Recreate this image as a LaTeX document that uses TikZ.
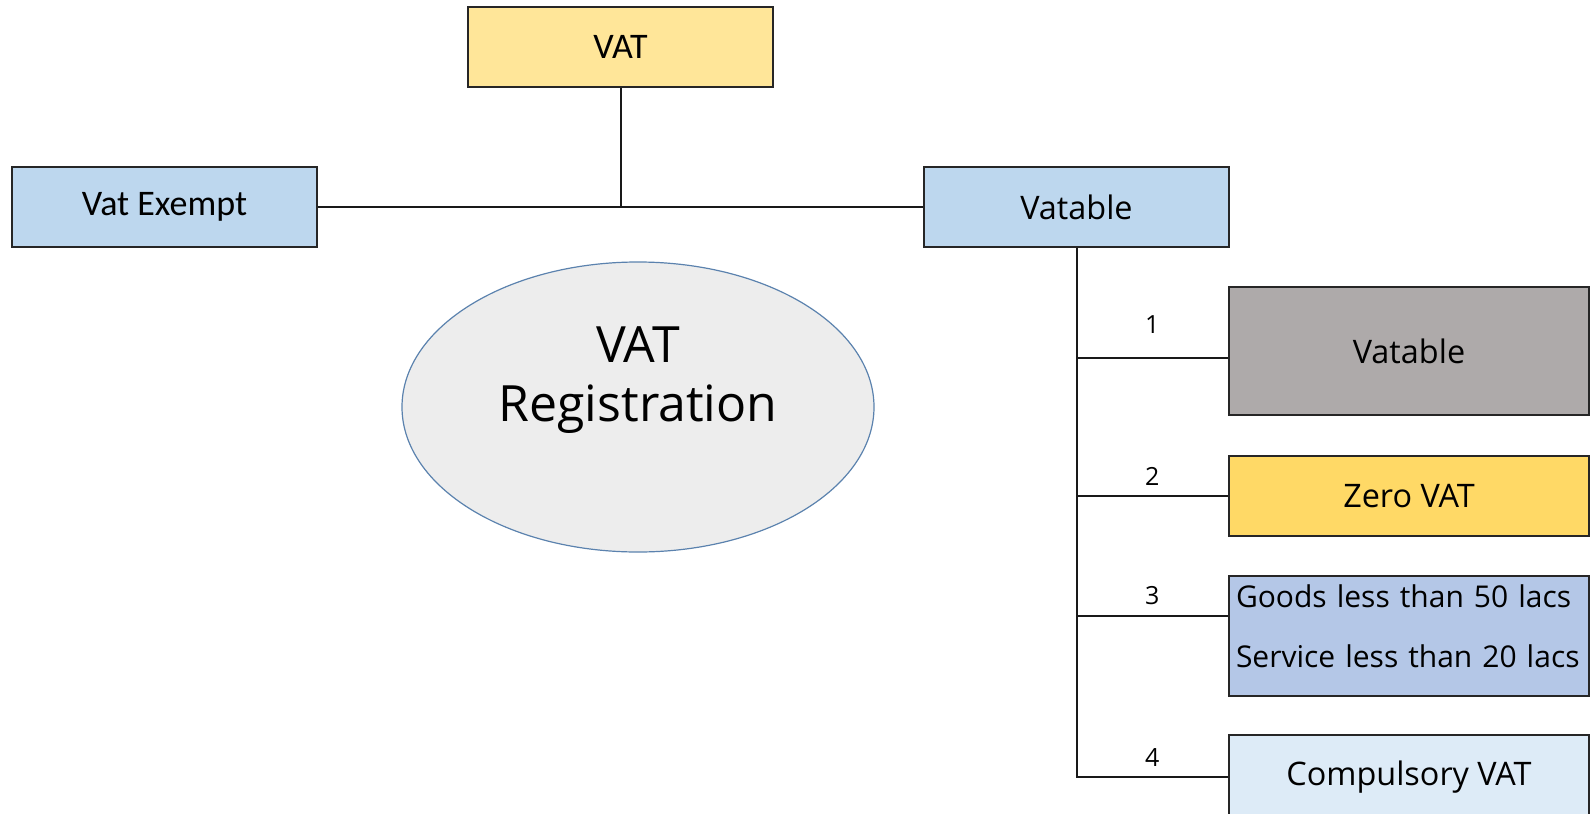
\documentclass[tikz,border=0pt]{standalone}
\usepackage{xcolor}
\usepackage{fontspec}
\setmainfont{Open Sans}
\newfontfamily\calfont{Carlito}
\usetikzlibrary{shapes.geometric}
\usetikzlibrary{positioning, calc}

\definecolor{vatyellow}{HTML}{FFE699}
\definecolor{zeroyellow}{HTML}{FFD966}
\definecolor{paleblue}{HTML}{BDD7EE}
\definecolor{midblue}{HTML}{B4C7E7}
\definecolor{lightblue}{HTML}{DDEBF7}
\definecolor{boxgray}{HTML}{AEAAAA}
\definecolor{ellgray}{HTML}{EDEDED}
\definecolor{ellline}{HTML}{5B82AE}
\definecolor{edge}{HTML}{262626}

\tikzset{
  box/.style={draw=edge, line width=0.9pt, rectangle, inner sep=0pt,
    minimum width=\Wbox, font=\fontsize{16.2}{19}\selectfont},
  calbox/.style={box, font=\calfont\fontsize{18}{21}\selectfont},
  ell/.style={ellipse, draw=ellline, line width=0.6pt, fill=ellgray, inner sep=0pt,
    align=center, font=\fontsize{25}{29.5}\selectfont},
  num/.style={font=\fontsize{12.5}{14}\selectfont, inner sep=0pt},
  link/.style={draw=black!90, line width=1pt}
}

\begin{document}
\begin{tikzpicture}[x=0.5pt, y=-0.5pt]
      \def\Wbox{152.5pt}
      \def\Wside{180pt}
      \useasboundingbox (0,0) rectangle (1596,814);

      % TOP ROW
      \node[calbox, fill=vatyellow, minimum height=40pt] (vat) at (620.5,47) {VAT};
      \node[calbox, fill=paleblue, minimum height=40pt] (exempt) at (164.5,207) {Vat Exempt};
      \node[box, fill=paleblue, minimum height=40pt] (vatable) at (1076.5,207) {Vatable};

      % CENTRE
      \node[ell, minimum width=236pt, minimum height=145pt] (reg) at (638,407)
        {VAT\\Registration\\[3pt]\mbox{}};

      % RIGHT COLUMN
      \node[box, fill=boxgray, minimum width=\Wside, minimum height=64pt] (kind1) at (1409,351) {Vatable};
      \node[box, fill=zeroyellow, minimum width=\Wside, minimum height=40pt] (kind2) at (1409,496) {Zero VAT};
      \node[box, fill=midblue, minimum width=\Wside, minimum height=60pt, align=left,
        inner xsep=3.5pt, text width=\Wside-7pt, font=\fontsize{15}{30}\selectfont] (kind3) at (1409,636)
        {Goods less than 50 lacs\\Service less than 20 lacs\\[-20pt]\mbox{}};
      \node[box, fill=lightblue, minimum width=\Wside, minimum height=42pt] (kind4) at (1409,777) {Compulsory VAT};

      % LINKS
      \draw[link] (exempt.east) -- (vatable.west);
      \draw[link] (vat.south) -- (vat.south |- vatable.west);
      \draw[link] (vatable.south) |- (kind4.west) node[num, pos=0.75, above=5pt] {4};
      \draw[link] (vatable.south |- kind1.west) ++(0,7) -- ([yshift=-3.5pt]kind1.west)
        node[num, midway, above=12pt] {1};
      \draw[link] (vatable.south |- kind2.west) -- (kind2.west) node[num, midway, above=5pt] {2};
      \draw[link] (vatable.south |- kind3.west) ++(0,-20) -- ([yshift=10pt]kind3.west)
        node[num, midway, above=5pt] {3};
\end{tikzpicture}
\end{document}
